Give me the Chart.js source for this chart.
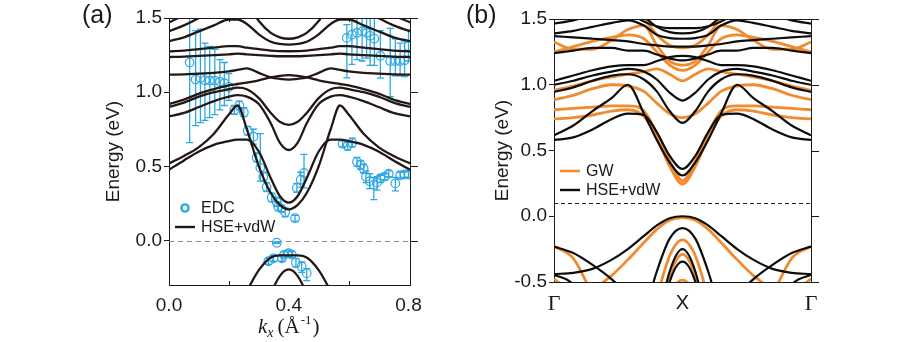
<!DOCTYPE html>
<html>
<head>
<meta charset="utf-8">
<script src="https://cdn.jsdelivr.net/npm/chart.js@4.4.0/dist/chart.umd.min.js"></script>
<style>
  html, body { margin: 0; padding: 0; background: #fff; }
  #wrap { position: relative; width: 899px; height: 342px; overflow: hidden; }
  .panel { position: absolute; top: 0; height: 342px; }
</style>
</head>
<body>
<div id="wrap">
  <div class="panel" style="left:0;width:450px"><canvas id="chartA"></canvas></div>
  <div class="panel" style="left:450px;width:449px"><canvas id="chartB"></canvas></div>
</div>
<script>
// ===============================
// Panel (a): ARPES EDC + HSE+vdW
// ===============================
const kA = [0, 0.05, 0.1, 0.15, 0.2, 0.229, 0.26, 0.3, 0.34, 0.37, 0.4, 0.43, 0.46, 0.5, 0.54, 0.571, 0.6, 0.65, 0.7, 0.75, 0.805];

// HSE+vdW bands (eV) at kA
const hseA = [
  [0.477, 0.54, 0.60, 0.645, 0.67, 0.68, 0.68, 0.6, 0.42, 0.3, 0.255, 0.3, 0.42, 0.6, 0.68, 0.68, 0.67, 0.645, 0.60, 0.54, 0.477],
  [0.52, 0.57, 0.63, 0.72, 0.85, 0.91, 0.75, 0.5, 0.32, 0.24, 0.21, 0.24, 0.32, 0.5, 0.75, 0.91, 0.85, 0.72, 0.63, 0.57, 0.52],
  [0.837, 0.86, 0.9, 0.94, 0.97, 0.98, 0.97, 0.92, 0.79, 0.66, 0.61, 0.66, 0.79, 0.92, 0.97, 0.98, 0.97, 0.94, 0.9, 0.86, 0.837],
  [0.90, 0.93, 0.97, 1.0, 1.02, 1.03, 1.02, 0.96, 0.86, 0.8, 0.78, 0.8, 0.86, 0.96, 1.02, 1.03, 1.02, 1.0, 0.97, 0.93, 0.90],
  [0.92, 0.95, 0.99, 1.02, 1.045, 1.055, 1.065, 1.08, 1.1, 1.11, 1.115, 1.11, 1.1, 1.08, 1.065, 1.055, 1.045, 1.02, 0.99, 0.95, 0.92],
  [1.118, 1.12, 1.125, 1.13, 1.14, 1.15, 1.16, 1.13, 1.1, 1.09, 1.085, 1.09, 1.1, 1.13, 1.16, 1.15, 1.14, 1.13, 1.125, 1.12, 1.118],
  [1.237, 1.24, 1.245, 1.25, 1.255, 1.26, 1.255, 1.25, 1.245, 1.242, 1.242, 1.242, 1.245, 1.25, 1.255, 1.26, 1.255, 1.25, 1.245, 1.24, 1.237],
  [1.275, 1.28, 1.29, 1.30, 1.31, 1.31, 1.3, 1.29, 1.28, 1.277, 1.276, 1.277, 1.28, 1.29, 1.3, 1.31, 1.31, 1.30, 1.29, 1.28, 1.275],
  [1.344, 1.37, 1.41, 1.45, 1.49, 1.49, 1.46, 1.39, 1.34, 1.325, 1.32, 1.325, 1.34, 1.39, 1.46, 1.49, 1.49, 1.45, 1.41, 1.37, 1.344],
  [1.41, 1.45, 1.5, 1.56, 1.62, 1.64, 1.6, 1.48, 1.4, 1.37, 1.36, 1.37, 1.4, 1.48, 1.6, 1.64, 1.62, 1.56, 1.5, 1.45, 1.41],
  [1.47, 1.52, 1.58, 1.65, 1.7, 1.7, 1.7, 1.7, 1.7, 1.7, 1.7, 1.7, 1.7, 1.7, 1.7, 1.7, 1.7, 1.65, 1.58, 1.52, 1.47],
  [-0.8, -0.8, -0.8, -0.72, -0.56, -0.45, -0.34, -0.2, -0.115, -0.1, -0.1, -0.1, -0.115, -0.2, -0.34, -0.45, -0.56, -0.72, -0.8, -0.8, -0.8],
  [-1, -1, -1, -1, -1, -1, -0.95, -0.7, -0.37, -0.24, -0.195, -0.24, -0.37, -0.7, -0.95, -1, -1, -1, -1, -1, -1]
];

// EDC peak positions with error bars
const edcK = [0.069, 0.089, 0.105, 0.12, 0.136, 0.153, 0.17, 0.185, 0.2,
  0.218, 0.235, 0.25, 0.263, 0.282, 0.293, 0.305, 0.315, 0.326, 0.343, 0.36, 0.365, 0.376, 0.388, 0.421, 0.427, 0.44, 0.451,
  0.58, 0.597, 0.612, 0.628, 0.64, 0.65, 0.658, 0.67, 0.684, 0.695, 0.706, 0.72, 0.734, 0.756, 0.772, 0.787, 0.80,
  0.594, 0.611, 0.628, 0.645, 0.66, 0.672, 0.686, 0.706, 0.739, 0.756, 0.772, 0.787, 0.80,
  0.332, 0.349, 0.36, 0.377, 0.384, 0.399, 0.41, 0.424, 0.443, 0.46];
const edcE = [1.20, 1.085, 1.095, 1.08, 1.078, 1.078, 1.07, 1.06, 1.035,
  0.88, 0.91, 0.865, 0.74, 0.70, 0.56, 0.49, 0.43, 0.36, 0.29, 0.26, 0.23, 0.215, 0.19, 0.15, 0.355, 0.41, 0.455,
  0.652, 0.64, 0.66, 0.53, 0.51, 0.485, 0.43, 0.40, 0.375, 0.39, 0.42, 0.43, 0.45, 0.385, 0.44, 0.445, 0.445,
  1.366, 1.388, 1.40, 1.41, 1.40, 1.38, 1.36, 1.245, 1.21, 1.21, 1.21, 1.215, 1.31,
  -0.14, -0.12, -0.015, -0.12, -0.097, -0.085, -0.095, -0.15, -0.175, -0.22];
const edcDown = [0.54, 0.31, 0.30, 0.27, 0.25, 0.23, 0.19, 0.15, 0.09,
  0.03, 0.03, 0.03, 0.03, 0.05, 0.03, 0.09, 0.03, 0.03, 0.03, 0.03, 0.03, 0.02, 0.03, 0.02, 0.03, 0.05, 0.1,
  0.02, 0.03, 0.03, 0.03, 0.03, 0.03, 0.04, 0.05, 0.1, 0.05, 0.03, 0.02, 0.02, 0.05, 0.02, 0.02, 0.02,
  0.27, 0.2, 0.18, 0.2, 0.17, 0.2, 0.18, 0.15, 0.24, 0.1, 0.1, 0.11, 0.1,
  0.02, 0.02, 0.005, 0.02, 0.02, 0.02, 0.02, 0.03, 0.04, 0.05];
const edcUp = [0.32, 0.33, 0.33, 0.25, 0.23, 0.21, 0.15, 0.14, 0.09,
  0.03, 0.03, 0.03, 0.03, 0.05, 0.03, 0.23, 0.03, 0.03, 0.03, 0.03, 0.03, 0.02, 0.03, 0.02, 0.03, 0.05, 0.125,
  0.02, 0.02, 0.03, 0.03, 0.03, 0.03, 0.04, 0.05, 0.05, 0.04, 0.02, 0.02, 0.02, 0.04, 0.02, 0.02, 0.02,
  0.09, 0.2, 0.2, 0.2, 0.2, 0.2, 0.15, 0.17, 0.22, 0.15, 0.12, 0.13, 0.11,
  0.02, 0.02, 0.005, 0.02, 0.02, 0.02, 0.02, 0.03, 0.03, 0.03];

const xTicksA = [0, 0.4, 0.8];
const yTicksA = [0, 0.5, 1.0, 1.5];

// ===============================
// Panel (b): GW vs HSE+vdW, Γ–X–Γ
// ===============================
const tB = [0, 0.15, 0.3, 0.45, 0.575, 0.7, 0.8, 0.9, 1, 1.1, 1.2, 1.3, 1.425, 1.55, 1.7, 1.85, 2];
const xTicksB = [0, 1, 2];
const xLabelsB = ["Γ", "X", "Γ"];
const yTicksB = [-0.5, 0, 0.5, 1.0, 1.5];

const hseB = [
  [0.58, 0.60, 0.66, 0.74, 0.78, 0.77, 0.64, 0.46, 0.36, 0.46, 0.64, 0.77, 0.78, 0.74, 0.66, 0.60, 0.58],
  [0.615, 0.69, 0.80, 0.90, 1.0, 0.78, 0.58, 0.41, 0.31, 0.41, 0.58, 0.78, 1.0, 0.90, 0.80, 0.69, 0.615],
  [0.945, 0.98, 1.03, 1.07, 1.08, 1.04, 0.95, 0.8, 0.71, 0.8, 0.95, 1.04, 1.08, 1.07, 1.03, 0.98, 0.945],
  [1.0, 1.03, 1.07, 1.10, 1.12, 1.1, 1.04, 0.94, 0.88, 0.94, 1.04, 1.1, 1.12, 1.10, 1.07, 1.03, 1.0],
  [1.03, 1.07, 1.11, 1.14, 1.15, 1.15, 1.18, 1.21, 1.22, 1.21, 1.18, 1.15, 1.15, 1.14, 1.11, 1.07, 1.03],
  [1.24, 1.26, 1.28, 1.28, 1.26, 1.26, 1.23, 1.2, 1.185, 1.2, 1.23, 1.26, 1.26, 1.28, 1.28, 1.26, 1.24],
  [1.37, 1.36, 1.35, 1.34, 1.33, 1.31, 1.3, 1.29, 1.29, 1.29, 1.3, 1.31, 1.33, 1.34, 1.35, 1.36, 1.37],
  [1.39, 1.41, 1.44, 1.47, 1.49, 1.45, 1.38, 1.355, 1.35, 1.355, 1.38, 1.45, 1.49, 1.47, 1.44, 1.41, 1.39],
  [1.465, 1.49, 1.53, 1.58, 1.62, 1.52, 1.44, 1.40, 1.39, 1.40, 1.44, 1.52, 1.62, 1.58, 1.53, 1.49, 1.465],
  [1.7, 1.7, 1.7, 1.66, 1.56, 1.48, 1.445, 1.43, 1.43, 1.43, 1.445, 1.48, 1.56, 1.66, 1.7, 1.7, 1.7],
  [-0.44, -0.43, -0.4, -0.33, -0.25, -0.15, -0.07, -0.015, 0.0, -0.015, -0.07, -0.15, -0.25, -0.33, -0.4, -0.43, -0.44],
  [-1.2, -1.2, -1.2, -1.2, -1.1, -0.75, -0.42, -0.17, -0.09, -0.17, -0.42, -0.75, -1.1, -1.2, -1.2, -1.2, -1.2],
  [-1.5, -1.5, -1.5, -1.5, -1.5, -1.3, -0.85, -0.42, -0.25, -0.42, -0.85, -1.3, -1.5, -1.5, -1.5, -1.5, -1.5],
  [-1.5, -1.5, -1.5, -1.5, -1.5, -1.4, -0.95, -0.5, -0.345, -0.5, -0.95, -1.4, -1.5, -1.5, -1.5, -1.5, -1.5],
  [-0.23, -0.28, -0.37, -0.48, -0.6, -0.75, -0.9, -1.0, -1.0, -1.0, -0.9, -0.75, -0.6, -0.48, -0.37, -0.28, -0.23],
  [-0.445, -0.52, -0.8, -1, -1.2, -1.2, -1.2, -1.2, -1.2, -1.2, -1.2, -1.2, -1.2, -1, -0.8, -0.52, -0.445]
];

const gwB = [
  [0.74, 0.75, 0.77, 0.80, 0.81, 0.76, 0.60, 0.38, 0.245, 0.38, 0.60, 0.76, 0.81, 0.80, 0.77, 0.75, 0.74],
  [0.81, 0.82, 0.83, 0.84, 0.84, 0.80, 0.63, 0.42, 0.27, 0.42, 0.63, 0.80, 0.84, 0.84, 0.83, 0.82, 0.81],
  [0.886, 0.92, 0.97, 1.0, 0.99, 0.95, 0.86, 0.78, 0.75, 0.78, 0.86, 0.95, 0.99, 1.0, 0.97, 0.92, 0.886],
  [0.957, 0.99, 1.03, 1.06, 1.08, 1.1, 1.12, 1.08, 1.03, 1.08, 1.12, 1.1, 1.08, 1.06, 1.03, 0.99, 0.957],
  [1.25, 1.29, 1.33, 1.36, 1.38, 1.35, 1.25, 1.15, 1.11, 1.15, 1.25, 1.35, 1.38, 1.36, 1.33, 1.29, 1.25],
  [1.325, 1.27, 1.27, 1.34, 1.42, 1.45, 1.3, 1.18, 1.15, 1.18, 1.3, 1.45, 1.42, 1.34, 1.27, 1.27, 1.325],
  [1.7, 1.7, 1.7, 1.65, 1.57, 1.5, 1.38, 1.3, 1.28, 1.3, 1.38, 1.5, 1.57, 1.65, 1.7, 1.7, 1.7],
  [-0.7, -0.66, -0.56, -0.45, -0.33, -0.2, -0.1, -0.03, -0.01, -0.03, -0.1, -0.2, -0.33, -0.45, -0.56, -0.66, -0.7],
  [-1.4, -1.4, -1.4, -1.4, -1.3, -0.98, -0.62, -0.3, -0.18, -0.3, -0.62, -0.98, -1.3, -1.4, -1.4, -1.4, -1.4],
  [-1.5, -1.5, -1.5, -1.5, -1.5, -1.4, -0.85, -0.45, -0.29, -0.45, -0.85, -1.4, -1.5, -1.5, -1.5, -1.5, -1.5],
  [-1.5, -1.5, -1.5, -1.5, -1.5, -1.5, -1.1, -0.62, -0.485, -0.62, -1.1, -1.5, -1.5, -1.5, -1.5, -1.5, -1.5],
  [-0.23, -0.32, -0.6, -0.9, -1.1, -1.3, -1.4, -1.4, -1.4, -1.4, -1.4, -1.3, -1.1, -0.9, -0.6, -0.32, -0.23],
  [-0.475, -0.6, -0.85, -1.1, -1.3, -1.4, -1.4, -1.4, -1.4, -1.4, -1.4, -1.4, -1.3, -1.1, -0.85, -0.6, -0.475]
];

// ===============================
// Gaya
// ===============================
const SANS = "'Liberation Sans', Arial, sans-serif";
const SERIF = "'Liberation Serif', 'Times New Roman', serif";
const INK = "#1a1a1a";
const BAND_A = "#231815";
const BAND_B = "#0d0d0d";
const ORANGE = "#F28A2E";
const EDC = "#2EA8E0";

function lineSet(xs, bands, color, width, order) {
    return bands.map(b => ({
        data: xs.map((x, i) => ({ x: x, y: b[i] })),
        borderColor: color,
        borderWidth: width,
        pointRadius: 0,
        fill: false,
        cubicInterpolationMode: "monotone",
        order: order
    }));
}

// frame (top/right), right ticks, dashed line, label, legend
function decor(opt) {
    return {
        id: "decor",
        beforeDatasetsDraw(chart) {
            const { ctx, chartArea: a, scales: { x, y } } = chart;
            ctx.save();
            ctx.strokeStyle = opt.dashColor;
            ctx.lineWidth = 1;
            ctx.setLineDash(opt.dash);
            const yy = Math.round(y.getPixelForValue(opt.dashAt)) + 0.5;
            ctx.beginPath();
            ctx.moveTo(a.left, yy);
            ctx.lineTo(a.right, yy);
            ctx.stroke();
            ctx.restore();

            if (opt.errors) {
                ctx.save();
                ctx.beginPath();
                ctx.rect(a.left, a.top, a.right - a.left, a.bottom - a.top);
                ctx.clip();
                ctx.strokeStyle = EDC;
                ctx.lineWidth = 1.3;
                edcK.forEach((k, i) => {
                    const px = x.getPixelForValue(k);
                    const top = y.getPixelForValue(edcE[i] + edcUp[i]);
                    const bot = y.getPixelForValue(edcE[i] - edcDown[i]);
                    ctx.beginPath();
                    ctx.moveTo(px, top); ctx.lineTo(px, bot);
                    ctx.moveTo(px - 3.5, top); ctx.lineTo(px + 3.5, top);
                    ctx.moveTo(px - 3.5, bot); ctx.lineTo(px + 3.5, bot);
                    ctx.stroke();
                });
                ctx.restore();
            }
        },
        afterDraw(chart) {
            const { ctx, chartArea: a, scales: { x, y } } = chart;
            ctx.save();
            ctx.strokeStyle = INK;
            ctx.lineWidth = 1;
            ctx.beginPath();
            ctx.moveTo(a.left, Math.round(a.top) + 0.5);
            ctx.lineTo(a.right, Math.round(a.top) + 0.5);
            ctx.moveTo(Math.round(a.right) + 0.5, a.top);
            ctx.lineTo(Math.round(a.right) + 0.5, a.bottom);
            y.ticks.forEach(t => {
                const py = Math.round(y.getPixelForValue(t.value)) + 0.5;
                ctx.moveTo(a.right, py);
                ctx.lineTo(a.right + 8, py);
            });
            (opt.minorX || []).forEach(v => {
                const px = Math.round(x.getPixelForValue(v)) + 0.5;
                ctx.moveTo(px, a.top); ctx.lineTo(px, a.top + 4);
                ctx.moveTo(px, a.bottom); ctx.lineTo(px, a.bottom - 4);
            });
            ctx.stroke();

            // panel label
            ctx.fillStyle = INK;
            ctx.font = "25px " + SANS;
            ctx.textBaseline = "middle";
            ctx.textAlign = "left";
            ctx.fillText(opt.label, opt.labelX, 16);

            // legend
            ctx.font = "16px " + SANS;
            opt.legend.forEach(item => {
                if (item.kind === "circle") {
                    ctx.strokeStyle = item.color;
                    ctx.lineWidth = 2.4;
                    ctx.beginPath();
                    ctx.arc(item.x + 10, item.y, 3.6, 0, Math.PI * 2);
                    ctx.stroke();
                } else {
                    ctx.strokeStyle = item.color;
                    ctx.lineWidth = item.width;
                    ctx.beginPath();
                    ctx.moveTo(item.x, item.y);
                    ctx.lineTo(item.x + 20, item.y);
                    ctx.stroke();
                }
                ctx.fillStyle = INK;
                ctx.fillText(item.text, item.x + 26, item.y + 1);
            });

            if (opt.kTitle) {
                // k_x (Å^-1)
                let x0 = 258;
                const yb = 333;
                ctx.textBaseline = "alphabetic";
                ctx.font = "italic 21px " + SERIF;
                ctx.fillText("k", x0, yb); x0 += ctx.measureText("k").width;
                ctx.font = "italic 14px " + SERIF;
                ctx.fillText("x", x0, yb + 4); x0 += ctx.measureText("x").width + 4;
                ctx.font = "21px " + SERIF;
                ctx.fillText("(Å", x0, yb); x0 += ctx.measureText("(Å").width;
                ctx.font = "13px " + SERIF;
                ctx.fillText("-1", x0 + 1, yb - 9); x0 += ctx.measureText("-1").width + 2;
                ctx.font = "21px " + SERIF;
                ctx.fillText(")", x0, yb);
            }
            ctx.restore();
        }
    };
}

function yScale(min, max, ticks, titlePad) {
    return {
        type: "linear",
        min: min,
        max: max,
        afterBuildTicks: s => { s.ticks = ticks.map(v => ({ value: v })); },
        afterFit: s => { s.width = 70; },
        grid: { drawOnChartArea: false, drawTicks: true, tickLength: 5, color: INK, lineWidth: 1 },
        border: { display: true, color: INK, width: 1 },
        ticks: {
            color: INK,
            font: { family: SANS, size: 19 },
            padding: 2,
            callback: v => v.toFixed(1)
        },
        title: {
            display: true,
            text: "Energy (eV)",
            color: INK,
            font: { family: SANS, size: 19 },
            padding: { top: titlePad, bottom: 0 }
        }
    };
}

// ===============================
// Grafik (a)
// ===============================
new Chart(document.getElementById("chartA"), {
    type: "line",
    data: {
        datasets: [
            ...lineSet(kA, hseA, BAND_A, 2.3, 1),
            {
                data: edcK.map((k, i) => ({ x: k, y: edcE[i] })),
                showLine: false,
                pointRadius: 4.3,
                pointBorderWidth: 1.2,
                pointBorderColor: EDC,
                pointBackgroundColor: "rgba(0,0,0,0)",
                order: 5
            }
        ]
    },
    options: {
        responsive: true,
        maintainAspectRatio: false,
        animation: false,
        layout: { padding: { left: 99, right: 40, top: 18, bottom: 7 } },
        plugins: { legend: { display: false }, tooltip: { enabled: false } },
        scales: {
            x: {
                type: "linear",
                min: 0,
                max: 0.805,
                afterBuildTicks: s => { s.ticks = xTicksA.map(v => ({ value: v })); },
                afterFit: s => { s.height = 50; },
                grid: { display: false },
                border: { display: true, color: INK, width: 1 },
                ticks: {
                    color: INK,
                    font: { family: SANS, size: 19 },
                    padding: 1,
                    maxRotation: 0,
                    autoSkip: false,
                    callback: v => v.toFixed(1)
                }
            },
            y: yScale(-0.3, 1.5, yTicksA, 3)
        }
    },
    plugins: [decor({
        dashAt: 0, dash: [5, 4], dashColor: "#8a8a8a",
        errors: true, minorX: [0.2, 0.6],
        label: "(a)", labelX: 82, kTitle: true,
        legend: [
            { kind: "circle", color: EDC, x: 175, y: 208, text: "EDC" },
            { kind: "line", color: BAND_A, width: 2.4, x: 175, y: 227, text: "HSE+vdW" }
        ]
    })]
});

// ===============================
// Grafik (b)
// ===============================
new Chart(document.getElementById("chartB"), {
    type: "line",
    data: {
        datasets: [
            ...lineSet(tB, gwB, ORANGE, 2.8, 2),
            ...lineSet(tB, hseB, BAND_B, 2.2, 1)
        ]
    },
    options: {
        responsive: true,
        maintainAspectRatio: false,
        animation: false,
        layout: { padding: { left: 34, right: 88, top: 19, bottom: 10 } },
        plugins: { legend: { display: false }, tooltip: { enabled: false } },
        scales: {
            x: {
                type: "linear",
                min: 0,
                max: 2,
                afterBuildTicks: s => { s.ticks = xTicksB.map(v => ({ value: v })); },
                afterFit: s => { s.height = 50; },
                grid: { display: false },
                border: { display: true, color: INK, width: 1 },
                ticks: {
                    color: INK,
                    font: c => c.index === 1 ? { family: SANS, size: 20 } : { family: SERIF, size: 22 },
                    padding: 1,
                    maxRotation: 0,
                    autoSkip: false,
                    callback: (v, i) => xLabelsB[i]
                }
            },
            y: yScale(-0.5, 1.5, yTicksB, 7)
        }
    },
    plugins: [decor({
        dashAt: 0.1, dash: [4, 3], dashColor: "#222",
        errors: false,
        label: "(b)", labelX: 16, kTitle: false,
        legend: [
            { kind: "line", color: ORANGE, width: 2.6, x: 110, y: 171, text: "GW" },
            { kind: "line", color: BAND_B, width: 2.4, x: 110, y: 190, text: "HSE+vdW" }
        ]
    })]
});
</script>
</body>
</html>
